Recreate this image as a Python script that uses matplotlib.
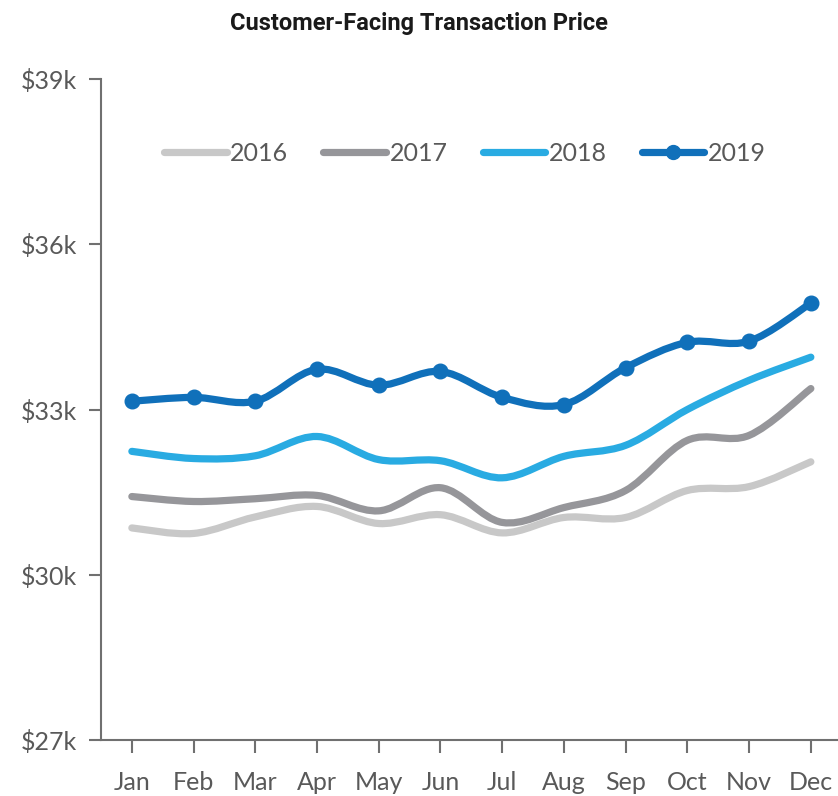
import numpy as np
import matplotlib
matplotlib.use("Agg")
import matplotlib.pyplot as plt
from matplotlib.path import Path
from matplotlib.patches import PathPatch
from matplotlib.lines import Line2D

months = ["Jan", "Feb", "Mar", "Apr", "May", "Jun", "Jul", "Aug", "Sep", "Oct", "Nov", "Dec"]
years = ["2016", "2017", "2018", "2019"]
price_2016 = [30.85, 30.75, 31.05, 31.24, 30.93, 31.09, 30.76, 31.04, 31.04, 31.53, 31.60, 32.05]
price_2017 = [31.42, 31.33, 31.38, 31.44, 31.16, 31.58, 30.95, 31.22, 31.53, 32.44, 32.53, 33.38]
price_2018 = [32.24, 32.11, 32.16, 32.51, 32.09, 32.07, 31.76, 32.15, 32.35, 33.00, 33.53, 33.95]
price_2019 = [33.15, 33.22, 33.15, 33.73, 33.44, 33.69, 33.22, 33.09, 33.76, 34.22, 34.24, 34.93]
yticks = [27, 30, 33, 36, 39]

colors = ["#C8C8C8", "#96969A", "#29ABE2", "#1070BA"]
series = [price_2016, price_2017, price_2018, price_2019]

plt.rcParams["font.family"] = ["Lato", "DejaVu Sans"]


def smooth_path(x, y, t=1 / 6):
    # Catmull-Rom style bezier, like Excel's smoothed lines
    pts = np.column_stack([x, y])
    n = len(pts)
    verts = [pts[0]]
    codes = [Path.MOVETO]
    for i in range(n - 1):
        p0 = pts[i - 1] if i > 0 else pts[i]
        p1 = pts[i]
        p2 = pts[i + 1]
        p3 = pts[i + 2] if i + 2 < n else pts[i + 1]
        c1 = p1 + (p2 - p0) * t
        c2 = p2 - (p3 - p1) * t
        verts += [c1, c2, p2]
        codes += [Path.CURVE4] * 3
    return Path(verts, codes)


fig = plt.figure(figsize=(8.38, 7.96), dpi=100)
ax = fig.add_axes([101 / 838, 56 / 796, 737 / 838, 661 / 796])

x = np.arange(len(months))
for vals, c in zip(series, colors):
    patch = PathPatch(smooth_path(x, vals), facecolor="none", edgecolor=c,
                      linewidth=5.2, capstyle="round", joinstyle="round")
    ax.add_patch(patch)
ax.plot(x, price_2019, linestyle="none", marker="o", markersize=10.5,
        color=colors[3], zorder=5)

ax.set_xlim(-0.5, 11.44)
ax.set_ylim(27, 39)
ax.set_xticks(x)
ax.set_xticklabels(months)
ax.set_yticks(yticks)
ax.set_yticklabels([f"${v}k" for v in yticks])

for s in ["top", "right"]:
    ax.spines[s].set_visible(False)
for s in ["left", "bottom"]:
    ax.spines[s].set_color("#707070")
    ax.spines[s].set_linewidth(1.5)
ax.tick_params(axis="both", colors="#707070", labelcolor="#595959",
               labelsize=18, length=9, width=1.5)
ax.tick_params(axis="x", pad=13)
ax.tick_params(axis="y", pad=8)

handles = [Line2D([], [], color=colors[0], lw=5.2, solid_capstyle="round"),
           Line2D([], [], color=colors[1], lw=5.2, solid_capstyle="round"),
           Line2D([], [], color=colors[2], lw=5.2, solid_capstyle="round"),
           Line2D([], [], color=colors[3], lw=5.2, solid_capstyle="round",
                  marker="o", markersize=10)]
leg = ax.legend(handles, years, ncol=4, loc="center", bbox_to_anchor=(0.494, 0.888),
                frameon=False, fontsize=18, handlelength=2.5, handletextpad=0.15,
                columnspacing=1.4)
for t in leg.get_texts():
    t.set_color("#595959")

fig.text(0.5, 0.971, "Customer-Facing Transaction Price", ha="center", va="center",
         fontsize=17, fontweight="bold", color="#1a1a1a", family=["Roboto", "DejaVu Sans"])

fig.savefig("out.png", dpi=100)
